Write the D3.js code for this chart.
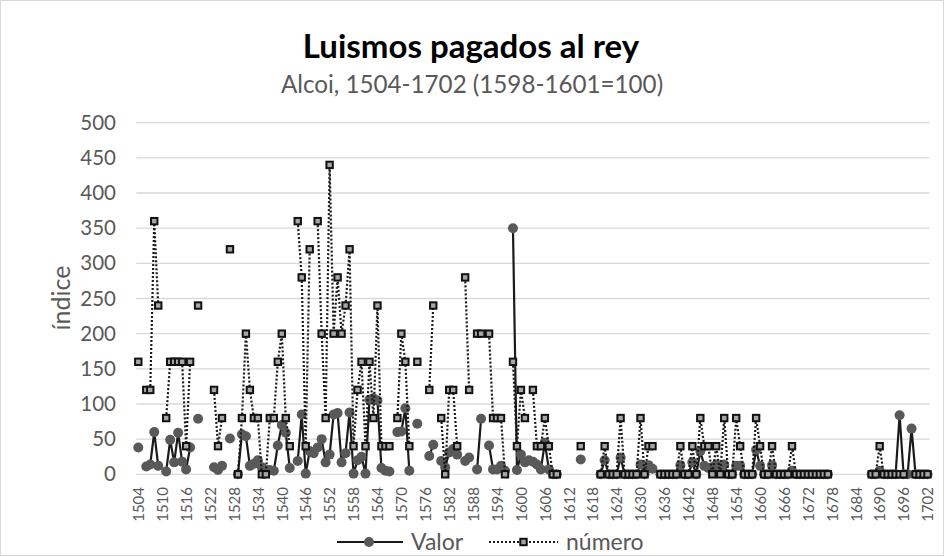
<!DOCTYPE html>
<html><head><meta charset="utf-8">
<script src="https://cdn.jsdelivr.net/npm/d3@7"></script>
<style>body{margin:0;background:#fff}svg{display:block}</style>
</head><body><svg id="c" width="944" height="556"></svg>
<script>
const firstYear = 1504, lastYear = 1702;
const years = d3.range(firstYear, lastYear + 1);
const N = null;
// Valor, 1504..1702
const valor = [
 38,N,11,14,60,12,N,4,49,17, 59,18,7,38,N,79,N,N,N,10,   // 1504-1523
 6,12,N,51,N,0,57,54,12,15, 20,10,6,6,5,41,70,59,9,N,    // 1524-1543
 19,85,1,33,30,38,50,17,28,85, 87,17,30,88,1,20,25,1,106,108, // 1544-1563
 105,9,5,4,N,60,61,94,5,N, 72,N,N,26,42,N,19,10,31,36,   // 1564-1583
 28,N,19,24,N,7,79,N,41,7, 7,12,5,N,350,6,28,17,20,18,   // 1584-1603
 14,7,45,7,0,0,N,N,N,N, N,21,N,N,N,N,0,20,0,0,           // 1604-1623
 0,24,0,0,0,0,14,0,13,8, N,0,0,0,0,0,13,0,0,17,          // 1624-1643
 0,33,12,9,10,14,10,14,0,0, 12,12,0,0,0,35,12,0,0,13,    // 1644-1663
 0,0,0,0,5,0,0,0,0,0, 0,0,0,0,N,N,N,N,N,N,               // 1664-1683
 N,N,N,N,0,0,5,0,0,0, 0,84,0,0,65,0,0,0,0                // 1684-1702
];
// número, 1504..1702
const numero = [
 160,N,120,120,360,240,N,80,160,160, 160,160,40,160,N,240,N,N,N,120, // 1504-1523
 40,80,N,320,N,0,80,200,120,80, 80,0,0,80,80,160,200,80,40,N,        // 1524-1543
 360,280,40,320,N,360,200,80,440,200, 280,200,240,320,40,120,160,40,160,80, // 1544-1563
 240,40,40,40,N,80,200,160,40,N, 160,N,N,120,240,N,80,0,120,120,     // 1564-1583
 40,N,280,120,N,200,200,N,200,80, 80,80,0,N,160,40,120,80,N,120,     // 1584-1603
 40,40,80,40,0,0,N,N,N,N, N,40,N,N,N,N,0,40,0,0,                     // 1604-1623
 0,80,0,0,0,0,80,0,40,40, N,0,0,0,0,0,40,0,0,40,                     // 1624-1643
 0,80,40,40,0,40,0,80,0,0, 80,40,0,0,0,80,40,0,0,40,                 // 1644-1663
 0,0,0,0,40,0,0,0,0,0, 0,0,0,0,N,N,N,N,N,N,                          // 1664-1683
 N,N,N,N,0,0,40,0,0,0, 0,0,0,N,N,0,0,0,0                             // 1684-1702
];
const yTicks = [0,50,100,150,200,250,300,350,400,450,500];
const xTickYears = d3.range(firstYear, lastYear + 1, 6);
const titleText = "Luismos pagados al rey";
const subtitleText = "Alcoi, 1504-1702 (1598-1601=100)";
const yTitle = "índice";
const seriesNames = ["Valor", "número"];

const svg = d3.select("#c");
const font = "Lato, 'Open Sans', sans-serif";
const gray = "#595959";

svg.append("rect").attr("x",0.5).attr("y",0.5).attr("width",943).attr("height",555)
  .attr("fill","#fff").attr("stroke","#d9d9d9");

const x = d3.scalePoint().domain(years).range([136.3, 929.5]).padding(0.5);
const y = d3.scaleLinear().domain([0, 500]).range([474.3, 122.7]);

// gridlines
svg.append("g").selectAll("line").data(yTicks).join("line")
  .attr("x1", 136.3).attr("x2", 929.5)
  .attr("y1", d => y(d)).attr("y2", d => y(d))
  .attr("stroke", "#d9d9d9").attr("stroke-width", 1.3);

// y labels
const yAxis = d3.axisLeft(y).tickValues(yTicks).tickSize(0).tickPadding(0);
const gy = svg.append("g").attr("transform","translate(116,0)").call(yAxis);
gy.select(".domain").remove();
gy.selectAll("text").attr("font-family", font).attr("font-size", 20.5).attr("fill", gray);

// x labels
const xAxis = d3.axisBottom(x).tickValues(xTickYears).tickSize(0).tickPadding(0);
const gx = svg.append("g").attr("transform","translate(0,487)").call(xAxis);
gx.select(".domain").remove();
gx.selectAll("text")
  .attr("font-family", font).attr("font-size", 15).attr("fill", gray)
  .attr("transform","rotate(-90)")
  .attr("text-anchor","end").attr("dy","0.35em").attr("x",0).attr("y",0);

const vData = years.map((yr,i) => ({yr, v: valor[i]}));
const nData = years.map((yr,i) => ({yr, v: numero[i]}));
const line = d3.line().defined(d => d.v !== null).x(d => x(d.yr)).y(d => y(d.v));

// Valor series
svg.append("path").datum(vData).attr("d", line)
  .attr("fill","none").attr("stroke","#1a1a1a").attr("stroke-width",2.2).attr("stroke-linejoin","round");
svg.append("g").selectAll("circle").data(vData.filter(d => d.v !== null)).join("circle")
  .attr("cx", d => x(d.yr)).attr("cy", d => y(d.v)).attr("r", 5)
  .attr("fill", gray);

// número series
svg.append("path").datum(nData).attr("d", line)
  .attr("fill","none").attr("stroke","#1a1a1a").attr("stroke-width",2.2)
  .attr("stroke-dasharray","2,2");
svg.append("g").selectAll("rect").data(nData.filter(d => d.v !== null)).join("rect")
  .attr("x", d => x(d.yr) - 3.2).attr("y", d => y(d.v) - 3.2)
  .attr("width", 6.4).attr("height", 6.4)
  .attr("fill","#a6a6a6").attr("stroke","#111").attr("stroke-width",2);

// titles
svg.append("text").attr("x", 471).attr("y", 58).attr("text-anchor","middle")
  .attr("font-family", font).attr("font-weight","bold").attr("font-size", 33).attr("fill","#000")
  .text(titleText);
svg.append("text").attr("x", 472).attr("y", 93).attr("text-anchor","middle")
  .attr("font-family", font).attr("font-size", 24.2).attr("fill", gray)
  .text(subtitleText);
svg.append("text").attr("transform","translate(70,298) rotate(-90)").attr("text-anchor","middle")
  .attr("font-family", font).attr("font-size", 25).attr("fill", gray)
  .text(yTitle);

// legend
const lg = svg.append("g");
lg.append("line").attr("x1",337).attr("x2",403).attr("y1",542).attr("y2",542)
  .attr("stroke","#1a1a1a").attr("stroke-width",2.2);
lg.append("circle").attr("cx",369).attr("cy",542).attr("r",5).attr("fill",gray);
lg.append("text").attr("x",411).attr("y",550).attr("font-family",font).attr("font-size",23)
  .attr("fill",gray).text(seriesNames[0]);
lg.append("line").attr("x1",489).attr("x2",558).attr("y1",542).attr("y2",542)
  .attr("stroke","#1a1a1a").attr("stroke-width",2.2).attr("stroke-dasharray","2,2");
lg.append("rect").attr("x",523.5-3.2).attr("y",542-3.2).attr("width",6.4).attr("height",6.4)
  .attr("fill","#a6a6a6").attr("stroke","#111").attr("stroke-width",2);
lg.append("text").attr("x",566).attr("y",550).attr("font-family",font).attr("font-size",23)
  .attr("fill",gray).text(seriesNames[1]);
</script></body></html>
